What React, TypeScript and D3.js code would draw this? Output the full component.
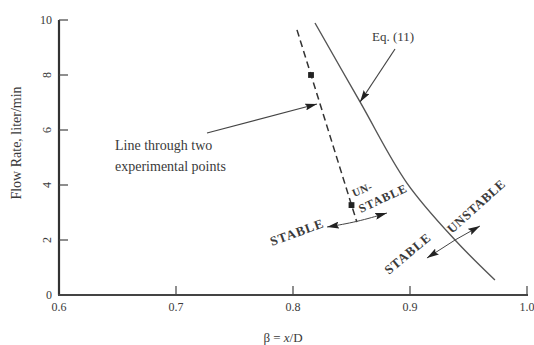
import React from "react";
import * as d3 from "d3";

// ---- data ----
const xTicks = [0.6, 0.7, 0.8, 0.9, 1.0];
const xTickLabels = ["0.6", "0.7", "0.8", "0.9", "1.0"];
const yTicks = [0, 2, 4, 6, 8, 10];
const yTickLabels = ["0", "2", "4", "6", "8", "10"];

// Eq. (11) curve
const eqBeta = [0.8188, 0.8573, 0.8974, 0.9385, 0.9726];
const eqFlow = [9.89, 7.02, 4.07, 2.0, 0.545];

// experimental points and the line through them
const expBeta = [0.8154, 0.85];
const expFlow = [8.0, 3.27];
const dashBeta = [0.8034, 0.8546];
const dashFlow = [9.64, 2.65];

// stability arrows (beta, flow)
const leftArrowBeta = [0.8291, 0.8547, 0.8803];
const leftArrowFlow = [2.473, 2.655, 2.982];
const rightArrowBeta = [0.9145, 0.9385, 0.9598];
const rightArrowFlow = [1.345, 2.0, 2.509];

const W = 534;
const H = 345;

export default function App() {
  const x = d3.scaleLinear().domain([0.6, 1.0]).range([59, 527]);
  const y = d3.scaleLinear().domain([0, 10]).range([295, 20]);

  const line = d3
    .line<[number, number]>()
    .x((d) => x(d[0]))
    .y((d) => y(d[1]));
  const smooth = d3
    .line<[number, number]>()
    .x((d) => x(d[0]))
    .y((d) => y(d[1]))
    .curve(d3.curveBasis);
  const smoothCR = d3
    .line<[number, number]>()
    .x((d) => x(d[0]))
    .y((d) => y(d[1]))
    .curve(d3.curveCatmullRom.alpha(0.5));

  const zip = (a: number[], b: number[]) => a.map((v, i) => [v, b[i]] as [number, number]);

  const serif = "'Liberation Serif', 'Times New Roman', serif";
  const ff = { fontFamily: serif };
  const ink = "#3a3a3a";
  const sq = d3.symbol().type(d3.symbolSquare).size(34)();

  const rotText = (
    bx: number,
    fy: number,
    angle: number,
    txt: string,
    size: number,
    ls: number
  ) => (
    <text
      transform={`translate(${x(bx)},${y(fy)}) rotate(${angle})`}
      fontSize={size}
      letterSpacing={ls}
      fill={ink}
      style={ff}
      fontWeight={600}
    >
      {txt}
    </text>
  );

  return (
    <svg
      width={W}
      height={H}
      style={{ position: "absolute", left: 0, top: 0, background: "#fff", fontFamily: serif }}
    >
      <defs>
        <marker
          id="ah"
          viewBox="0 0 12 7"
          refX="12"
          refY="3.5"
          markerWidth="12"
          markerHeight="7"
          markerUnits="userSpaceOnUse"
          orient="auto-start-reverse"
        >
          <path d="M0,0 L12,3.5 L0,7 L2,3.5 Z" fill="#222" />
        </marker>
      </defs>

      {/* axes */}
      <line x1={x(0.6)} x2={x(0.6)} y1={y(10)} y2={y(0)} stroke="#333" strokeWidth={2.2} />
      <line x1={x(0.6) - 1} x2={x(1.0) + 1} y1={y(0)} y2={y(0)} stroke="#444" strokeWidth={2} />
      {yTicks.slice(1).map((t) => (
        <line key={"yt" + t} x1={x(0.6)} x2={x(0.6) + 9} y1={y(t)} y2={y(t)} stroke="#444" strokeWidth={1.2} />
      ))}
      {xTicks.slice(1).map((t) => (
        <line key={"xt" + t} x1={x(t)} x2={x(t)} y1={y(0)} y2={y(0) - 9} stroke="#444" strokeWidth={1.2} />
      ))}
      {yTicks.map((t, i) =>
        t === 0 || t === 10 ? (
          <text
            key={"yl" + t}
            x={x(0.6) - 7}
            y={y(t) + 4}
            textAnchor="end"
            fontSize={12}
            fill={ink}
            style={ff}
          >
            {yTickLabels[i]}
          </text>
        ) : (
          <text
            key={"yl" + t}
            transform={`translate(${x(0.6) - 12},${y(t)}) rotate(-90)`}
            textAnchor="middle"
            dy="0.35em"
            fontSize={12}
            fill={ink}
            style={ff}
          >
            {yTickLabels[i]}
          </text>
        )
      )}
      {xTicks.map((t, i) => (
        <text key={"xl" + t} x={x(t)} y={y(0) + 16} textAnchor="middle" fontSize={12} fill={ink} style={ff}>
          {xTickLabels[i]}
        </text>
      ))}

      {/* axis titles */}
      <text
        transform={`translate(21,${143}) rotate(-90)`}
        textAnchor="middle"
        fontSize={14}
        fill={ink}
        style={ff}
      >
        Flow Rate, liter/min
      </text>
      <text x={283} y={342} textAnchor="middle" fontSize={13} fill={ink} style={ff}>
        β = <tspan fontStyle="italic">x</tspan>/D
      </text>

      {/* Eq. (11) curve */}
      <path d={smoothCR(zip(eqBeta, eqFlow)) || ""} fill="none" stroke="#555" strokeWidth={1.4} />

      {/* dashed line through experimental points */}
      <path
        d={line(zip(dashBeta, dashFlow)) || ""}
        fill="none"
        stroke="#333"
        strokeWidth={1.5}
        strokeDasharray="7,4"
      />
      {expBeta.map((b, i) => (
        <path key={"p" + i} d={sq || ""} transform={`translate(${x(b)},${y(expFlow[i])})`} fill="#222" />
      ))}

      {/* annotations */}
      <text x={x(0.8675)} y={y(9.236)} fontSize={13} fill={ink} style={ff}>
        Eq. (11)
      </text>
      <line
        x1={x(0.8872)}
        y1={y(8.945)}
        x2={x(0.8573)}
        y2={y(7.018)}
        stroke="#444"
        strokeWidth={1.2}
        markerEnd="url(#ah)"
      />
      <text x={x(0.6479)} y={y(5.273)} fontSize={14} fill={ink} style={ff}>
        Line through two
      </text>
      <text x={x(0.6479)} y={y(4.509)} fontSize={14} fill={ink} style={ff}>
        experimental points
      </text>
      <line
        x1={x(0.7265)}
        y1={y(5.891)}
        x2={x(0.8205)}
        y2={y(6.945)}
        stroke="#444"
        strokeWidth={1.2}
        markerEnd="url(#ah)"
      />

      {/* stability arrows */}
      <path
        d={smooth(zip(leftArrowBeta, leftArrowFlow)) || ""}
        fill="none"
        stroke="#444"
        strokeWidth={1}
        markerStart="url(#ah)"
        markerEnd="url(#ah)"
      />
      <path
        d={line(zip(rightArrowBeta, rightArrowFlow)) || ""}
        fill="none"
        stroke="#444"
        strokeWidth={1}
        markerStart="url(#ah)"
        markerEnd="url(#ah)"
      />

      {rotText(0.8521, 3.564, -22, "UN-", 11, 0.5)}
      {rotText(0.8581, 2.982, -25, "STABLE", 12, 1)}
      {rotText(0.7821, 1.782, -20, "STABLE", 13, 1)}
      {rotText(0.882, 0.727, -40, "STABLE", 13, 1)}
      {rotText(0.9359, 2.218, -42, "UNSTABLE", 13, 0.5)}
    </svg>
  );
}
